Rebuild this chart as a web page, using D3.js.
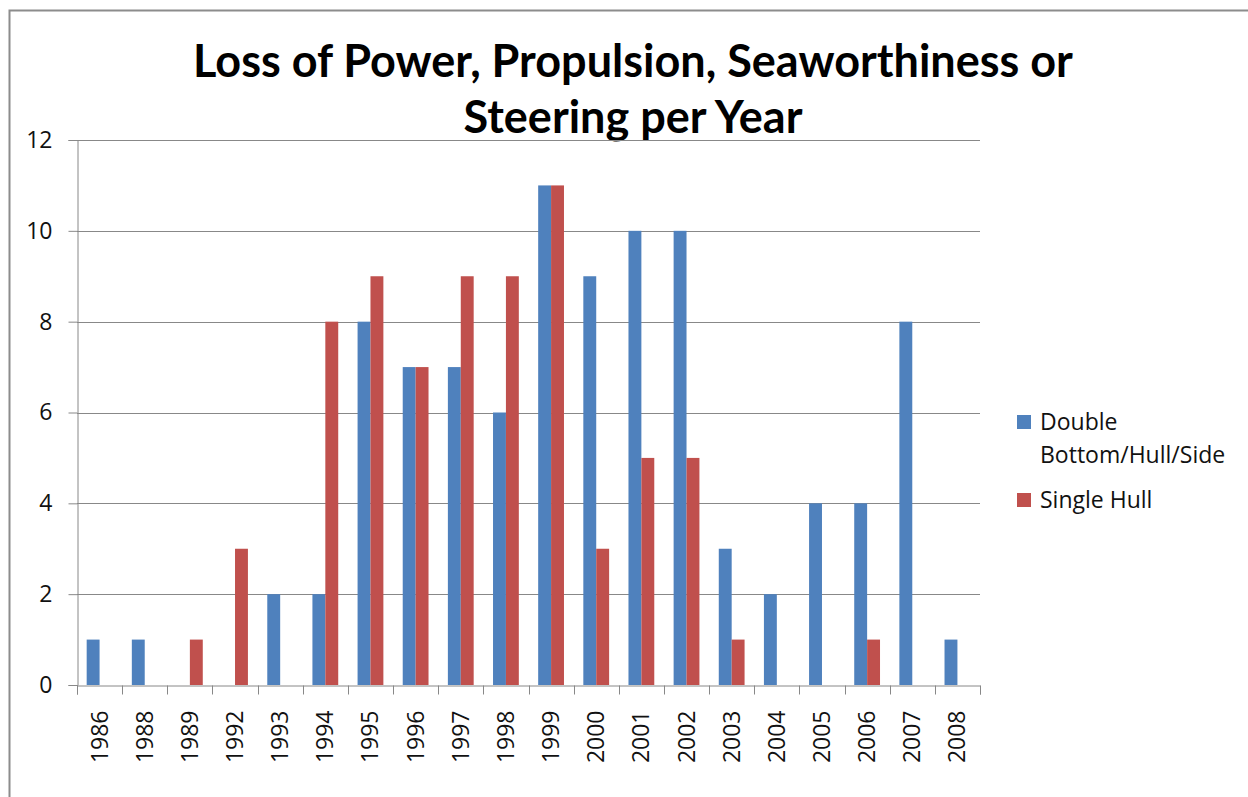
<!DOCTYPE html>
<html>
<head>
<meta charset="utf-8">
<script src="https://cdn.jsdelivr.net/npm/d3@7"></script>
<style>
  body { margin: 0; background: #fff; }
  svg { display: block; font-family: "Open Sans", Lato, sans-serif; }
</style>
</head>
<body>
<div id="chart-area"></div>
<script>
const years = ["1986", "1988", "1989", "1992", "1993", "1994", "1995", "1996", "1997", "1998",
  "1999", "2000", "2001", "2002", "2003", "2004", "2005", "2006", "2007", "2008"];
const doubleHull = [1, 1, 0, 0, 2, 2, 8, 7, 7, 6, 11, 9, 10, 10, 3, 2, 4, 4, 8, 1];
const singleHull = [0, 0, 1, 3, 0, 8, 9, 7, 9, 9, 11, 3, 5, 5, 1, 0, 0, 1, 0, 0];
const seriesNames = ["Double Bottom/Hull/Side", "Single Hull"];
const yTicks = [0, 2, 4, 6, 8, 10, 12];

const colors = ["#4F81BD", "#C0504D"];
const gridColor = "#888888";
const labelFont = "\"Open Sans\", sans-serif";

const canvasWidth = 1248;
const canvasHeight = 797;
const margin = { left: 77, top: 140, right: 268, bottom: 112 };
const chartWidth = canvasWidth - margin.left - margin.right;
const chartHeight = canvasHeight - margin.top - margin.bottom;

const canvas = d3.select("#chart-area").append("svg")
  .attr("width", canvasWidth)
  .attr("height", canvasHeight);

// outer chart frame (runs off the right/bottom edge in the picture)
canvas.append("rect")
  .attr("x", 9.5).attr("y", 10.5)
  .attr("width", 1260).attr("height", 820)
  .attr("fill", "none")
  .attr("stroke", "#8c8c8c")
  .attr("stroke-width", 2);

// title, two lines
const title = canvas.append("text")
  .attr("text-anchor", "middle")
  .attr("font-family", "Lato, sans-serif")
  .attr("font-size", "45px")
  .attr("font-weight", "bold")
  .attr("fill", "#000");
title.append("tspan").attr("x", 633).attr("y", 77).text("Loss of Power, Propulsion, Seaworthiness or");
title.append("tspan").attr("x", 633).attr("y", 133).text("Steering per Year");

const chartGroup = canvas.append("g").attr("transform", `translate(${margin.left}, ${margin.top})`);

const yScale = d3.scaleLinear().domain([0, 12]).range([chartHeight, 0]);
const xScale = d3.scaleBand().domain(years).range([0, chartWidth]);
// Excel-style gap width of 150%
const barWidth = xScale.bandwidth() / 3.5;
const seriesScale = d3.scaleBand().domain([0, 1]).range([xScale.bandwidth() / 2 - barWidth, xScale.bandwidth() / 2 + barWidth]);

// gridlines
chartGroup.append("g")
  .selectAll("line")
  .data(yTicks.filter(d => d > 0))
  .enter().append("line")
  .attr("x1", 0).attr("x2", chartWidth)
  .attr("y1", d => Math.round(yScale(d)) + 0.5)
  .attr("y2", d => Math.round(yScale(d)) + 0.5)
  .attr("stroke", gridColor);

// bars
const rows = years.map((y, i) => ({ year: y, values: [doubleHull[i], singleHull[i]] }));
chartGroup.append("g")
  .selectAll("g")
  .data(rows)
  .enter().append("g")
  .attr("transform", d => `translate(${xScale(d.year)}, 0)`)
  .selectAll("rect")
  .data(d => d.values.map((v, s) => ({ v, s })))
  .enter().append("rect")
  .attr("x", d => seriesScale(d.s))
  .attr("width", seriesScale.bandwidth())
  .attr("y", d => yScale(d.v))
  .attr("height", d => chartHeight - yScale(d.v))
  .attr("fill", d => colors[d.s]);

// axes
const yAxis = d3.axisLeft(yScale).tickValues(yTicks).tickSize(9).tickPadding(16);
const yAxisGroup = chartGroup.append("g").attr("transform", "translate(0.5, 0)").call(yAxis);

const xAxis = d3.axisBottom(xScale).tickSize(9).tickFormat("");
const xAxisGroup = chartGroup.append("g").attr("transform", `translate(0, ${chartHeight + 0.5})`).call(xAxis);
// ticks sit on the category boundaries
xAxisGroup.selectAll(".tick").remove();
xAxisGroup.selectAll("line.bound")
  .data(years.concat(["end"]))
  .enter().append("line")
  .attr("class", "bound")
  .attr("x1", (d, i) => Math.round(i * xScale.step()) + 0.5)
  .attr("x2", (d, i) => Math.round(i * xScale.step()) + 0.5)
  .attr("y1", 0).attr("y2", 9)
  .attr("stroke", gridColor);

[yAxisGroup, xAxisGroup].forEach(g => {
  g.select(".domain").attr("stroke", gridColor);
  g.selectAll(".tick line").attr("stroke", gridColor);
});
yAxisGroup.selectAll(".tick text")
  .attr("font-size", "23px")
  .attr("font-family", labelFont)
  .attr("fill", "#111");

// rotated year labels
xAxisGroup.selectAll("text.year")
  .data(years)
  .enter().append("text")
  .attr("class", "year")
  .attr("text-anchor", "end")
  .attr("font-size", "23px")
  .attr("font-family", labelFont)
  .attr("fill", "#111")
  .attr("transform", d => `translate(${xScale(d) + xScale.bandwidth() / 2 + 8}, 25) rotate(-90)`)
  .text(d => d);

// legend
const legend = canvas.append("g").attr("transform", "translate(1017, 415)");
legend.append("rect").attr("x", 0).attr("y", 0).attr("width", 14).attr("height", 14).attr("fill", colors[0]);
const l1 = legend.append("text").attr("font-size", "23px").attr("font-family", labelFont).attr("fill", "#111");
l1.append("tspan").attr("x", 23).attr("y", 15).text("Double");
l1.append("tspan").attr("x", 23).attr("y", 48).text("Bottom/Hull/Side");
legend.append("rect").attr("x", 0).attr("y", 78).attr("width", 14).attr("height", 14).attr("fill", colors[1]);
legend.append("text").attr("font-size", "23px").attr("font-family", labelFont).attr("fill", "#111")
  .attr("x", 23).attr("y", 93).text(seriesNames[1]);
</script>
</body>
</html>
